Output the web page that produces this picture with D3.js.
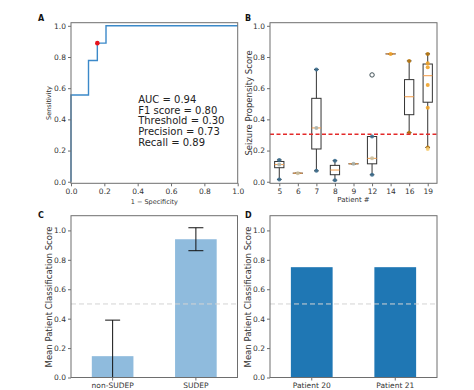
<!DOCTYPE html>
<html>
<head>
<meta charset="utf-8">
<script src="https://cdn.jsdelivr.net/npm/d3@7"></script>
<style>
  html, body { margin: 0; padding: 0; background: #fff; }
  svg { display: block; font-family: "DejaVu Sans", sans-serif; }
</style>
</head>
<body>
<svg id="fig" width="474" height="390"></svg>
<script>
// ---------------- DATA ----------------
// Panel A: ROC curve
const rocFPR = [0, 0, 0.105, 0.105, 0.158, 0.158, 0.21, 0.21, 1.0];
const rocTPR = [0, 0.556, 0.556, 0.778, 0.778, 0.889, 0.889, 1.0, 1.0];
const rocPoint = [0.158, 0.889];
const rocStats = ["AUC = 0.94", "F1 score = 0.80", "Threshold = 0.30", "Precision = 0.73", "Recall = 0.89"];
const unitTicks = [0, 0.2, 0.4, 0.6, 0.8, 1.0];

// Panel B: box plots per patient
const patients = ["5", "6", "7", "8", "9", "12", "14", "16", "19"];
// [whiskerLow, q1, median, q3, whiskerHigh]
const boxStats = [
  [0.015, 0.09, 0.11, 0.13, 0.14],
  [0.055, 0.055, 0.055, 0.055, 0.055],
  [0.07, 0.21, 0.345, 0.535, 0.72],
  [0.01, 0.045, 0.075, 0.105, 0.135],
  [0.115, 0.115, 0.115, 0.115, 0.115],
  [0.045, 0.115, 0.15, 0.29, 0.29],
  [0.82, 0.82, 0.82, 0.82, 0.82],
  [0.315, 0.43, 0.545, 0.655, 0.775],
  [0.22, 0.51, 0.68, 0.755, 0.82]
];
const outliers = [["12", 0.685]];
// scatter points: [patient, value, colour group]
const scatterPatient = ["5", "5", "5", "6", "7", "7", "7", "8", "8", "9", "12", "12", "12", "14", "16", "16", "19", "19", "19", "19", "19", "19", "19"];
const scatterValue = [0.14, 0.11, 0.015, 0.055, 0.72, 0.345, 0.07, 0.135, 0.01, 0.115, 0.29, 0.15, 0.045, 0.82, 0.775, 0.315, 0.82, 0.76, 0.735, 0.62, 0.475, 0.22, 0.21];
const scatterGroup = ["dark", "grey", "dark", "tan", "dark", "grey", "dark", "dark", "dark", "grey", "dark", "tan", "dark", "orange", "brown", "brown", "brown", "orange", "orange", "orange", "orange", "brown", "lightorange"];
const thresholdValue = 0.305;

// Panel C
const groupsC = ["non-SUDEP", "SUDEP"];
const meansC = [0.145, 0.94];
const errC = [0.245, 0.078];
// Panel D
const groupsD = ["Patient 20", "Patient 21"];
const meansD = [0.75, 0.75];
const chanceLevel = 0.5;

// ---------------- DRAWING ----------------
const svg = d3.select("#fig");
const spineColor = "#6e6e6e";
const textColor = "#333";
const groupColors = {dark: "#3d6e8e", grey: "#a9b4ae", tan: "#c9bf9f", orange: "#f0a32a", brown: "#b9780f", lightorange: "#f7cf7a"};

function drawYAxis(g, y, x0, ticks) {
  const ax = g.append("g").attr("transform", `translate(${x0},0)`)
    .call(d3.axisLeft(y).tickValues(ticks).tickFormat(d3.format(".1f")).tickSize(3).tickPadding(2));
  ax.select(".domain").remove();
  ax.selectAll("line").attr("stroke", spineColor);
  ax.selectAll("text").attr("fill", textColor).style("font-size", "7.5px").style("font-family", "DejaVu Sans");
  return ax;
}
function drawXAxis(g, x, y0, ticks, fmt) {
  const a = d3.axisBottom(x).tickSize(3).tickPadding(2);
  if (ticks) a.tickValues(ticks);
  if (fmt) a.tickFormat(fmt);
  const ax = g.append("g").attr("transform", `translate(0,${y0})`).call(a);
  ax.select(".domain").remove();
  ax.selectAll("line").attr("stroke", spineColor);
  ax.selectAll("text").attr("fill", textColor).style("font-size", "7.5px").style("font-family", "DejaVu Sans");
  return ax;
}
function frame(g, x0, x1, y0, y1) {
  g.append("rect").attr("x", x0).attr("y", y0).attr("width", x1 - x0).attr("height", y1 - y0)
    .attr("fill", "none").attr("stroke", spineColor).attr("stroke-width", 1);
}
function yLabel(g, text, cx, cy, size) {
  g.append("text").attr("transform", `translate(${cx},${cy}) rotate(-90)`)
    .attr("text-anchor", "middle").attr("dominant-baseline", "central")
    .attr("fill", textColor).style("font-size", size + "px").text(text);
}
function panelLetter(g, t, x, y) {
  g.append("text").attr("x", x).attr("y", y).attr("font-weight", "bold")
    .style("font-size", "8px").attr("fill", "#111").text(t);
}

// ---- Panel A ----
{
  const L = 71, R = 237.7, T = 22.7, B = 183.3;
  const x = d3.scaleLinear().domain([0, 1]).range([L, R]);
  const y = d3.scaleLinear().domain([-0.01, 1.02]).range([B, T]);
  const g = svg.append("g");
  const pts = rocFPR.map((f, i) => [f, rocTPR[i]]);
  g.append("path").datum(pts)
    .attr("d", d3.line().x(d => x(d[0])).y(d => y(d[1])))
    .attr("fill", "none").attr("stroke", "#3b89c9").attr("stroke-width", 1.4);
  g.append("circle").attr("cx", x(rocPoint[0])).attr("cy", y(rocPoint[1])).attr("r", 2.3).attr("fill", "#e8141c");
  frame(g, L, R, T, B);
  drawYAxis(g, y, L, unitTicks);
  drawXAxis(g, x, B, unitTicks, d3.format(".1f"));
  const tx = g.append("text").attr("x", x(0.4) + 0.5).attr("y", y(0.505)).attr("fill", "#222").style("font-size", "10px");
  rocStats.forEach((s, i) => {
    tx.append("tspan").attr("x", x(0.4) + 0.5).attr("dy", i === 0 ? 0 : 10.7).text(s);
  });
  yLabel(g, "Sensitivity", 49, 103, 6.5);
  g.append("text").attr("x", (L + R) / 2).attr("y", 204).attr("text-anchor", "middle")
    .attr("fill", textColor).style("font-size", "6.5px").text("1 \u2212 Specificity");
  panelLetter(g, "A", 38, 21);
}

// ---- Panel B ----
{
  const L = 270, R = 437, T = 22.7, B = 183.3;
  const x = d3.scalePoint().domain(patients).range([L, R]).padding(0.5);
  const y = d3.scaleLinear().domain([-0.01, 1.02]).range([B, T]);
  const g = svg.append("g");
  const bw = x.step() * 0.5;
  const cw = bw * 0.5;
  const boxes = g.selectAll(".box").data(patients.map((p, i) => ({p, s: boxStats[i]}))).join("g");
  boxes.append("line").attr("x1", d => x(d.p)).attr("x2", d => x(d.p))
    .attr("y1", d => y(d.s[0])).attr("y2", d => y(d.s[1])).attr("stroke", "#333").attr("stroke-width", 1);
  boxes.append("line").attr("x1", d => x(d.p)).attr("x2", d => x(d.p))
    .attr("y1", d => y(d.s[3])).attr("y2", d => y(d.s[4])).attr("stroke", "#333").attr("stroke-width", 1);
  boxes.append("line").attr("x1", d => x(d.p) - cw / 2).attr("x2", d => x(d.p) + cw / 2)
    .attr("y1", d => y(d.s[0])).attr("y2", d => y(d.s[0])).attr("stroke", "#222").attr("stroke-width", 1);
  boxes.append("line").attr("x1", d => x(d.p) - cw / 2).attr("x2", d => x(d.p) + cw / 2)
    .attr("y1", d => y(d.s[4])).attr("y2", d => y(d.s[4])).attr("stroke", "#222").attr("stroke-width", 1);
  boxes.append("rect").attr("x", d => x(d.p) - bw / 2).attr("width", bw)
    .attr("y", d => y(d.s[3])).attr("height", d => Math.max(0.01, y(d.s[1]) - y(d.s[3])))
    .attr("fill", "none").attr("stroke", "#333").attr("stroke-width", 1);
  boxes.append("line").attr("x1", d => x(d.p) - bw / 2).attr("x2", d => x(d.p) + bw / 2)
    .attr("y1", d => y(d.s[2])).attr("y2", d => y(d.s[2])).attr("stroke", "#f39a45").attr("stroke-width", 1);
  g.selectAll(".out").data(outliers).join("circle")
    .attr("cx", d => x(d[0])).attr("cy", d => y(d[1])).attr("r", 2.2)
    .attr("fill", "none").attr("stroke", "#3f4f55").attr("stroke-width", 1);
  g.selectAll(".pt").data(scatterValue.map((v, i) => ({p: scatterPatient[i], v, c: scatterGroup[i]}))).join("circle")
    .attr("cx", d => x(d.p)).attr("cy", d => y(d.v)).attr("r", 2)
    .attr("fill", d => groupColors[d.c]).attr("opacity", 0.9);
  // single-value horizontal marks (collapsed boxes)
  g.append("line").attr("x1", L).attr("x2", R).attr("y1", y(thresholdValue)).attr("y2", y(thresholdValue))
    .attr("stroke", "#e32a2a").attr("stroke-width", 1.4).attr("stroke-dasharray", "4,2.5");
  frame(g, L, R, T, B);
  drawYAxis(g, y, L, unitTicks);
  drawXAxis(g, x, B);
  yLabel(g, "Seizure Propensity Score", 248.5, 103, 8.5);
  g.append("text").attr("x", (L + R) / 2).attr("y", 202).attr("text-anchor", "middle")
    .attr("fill", textColor).style("font-size", "7px").text("Patient #");
  panelLetter(g, "B", 245, 21);
}

// ---- Panels C & D ----
function barPanel(L, R, cats, vals, errs, color, letter, letterX) {
  const T = 215.7, B = 377.5;
  const x = d3.scaleBand().domain(cats).range([L, R]).paddingInner(0.5).paddingOuter(0.25);
  const y = d3.scaleLinear().domain([0, 1.1]).range([B, T]);
  const g = svg.append("g");
  g.selectAll(".bar").data(cats.map((c, i) => ({c, v: vals[i]}))).join("rect")
    .attr("x", d => x(d.c)).attr("width", x.bandwidth())
    .attr("y", d => y(d.v)).attr("height", d => B - y(d.v)).attr("fill", color);
  g.append("line").attr("x1", L).attr("x2", R).attr("y1", y(chanceLevel)).attr("y2", y(chanceLevel))
    .attr("stroke", "#d4d4d4").attr("stroke-width", 1).attr("stroke-dasharray", "5,3");
  if (errs) {
    const eb = g.selectAll(".eb").data(cats.map((c, i) => ({c, v: vals[i], e: errs[i]}))).join("g");
    const cx = d => x(d.c) + x.bandwidth() / 2;
    const hi = d => y(d.v + d.e);
    const lo = d => y(Math.max(0, d.v - d.e));
    eb.append("line").attr("x1", cx).attr("x2", cx).attr("y1", hi).attr("y2", lo).attr("stroke", "#111").attr("stroke-width", 1);
    eb.append("line").attr("x1", d => cx(d) - 7.5).attr("x2", d => cx(d) + 7.5).attr("y1", hi).attr("y2", hi).attr("stroke", "#111").attr("stroke-width", 1);
    eb.filter(d => d.v - d.e >= 0).append("line").attr("x1", d => cx(d) - 7.5).attr("x2", d => cx(d) + 7.5)
      .attr("y1", lo).attr("y2", lo).attr("stroke", "#111").attr("stroke-width", 1);
  }
  frame(g, L, R, T, B);
  drawYAxis(g, y, L, unitTicks);
  drawXAxis(g, x, B);
  yLabel(g, "Mean Patient Classification Score", L - 22, 297, 8.5);
  panelLetter(g, letter, letterX, 218);
}
barPanel(71, 237.5, groupsC, meansC, errC, "#8fbbdd", "C", 38);
barPanel(270, 437, groupsD, meansD, null, "#1f77b4", "D", 245);
</script>
</body>
</html>
